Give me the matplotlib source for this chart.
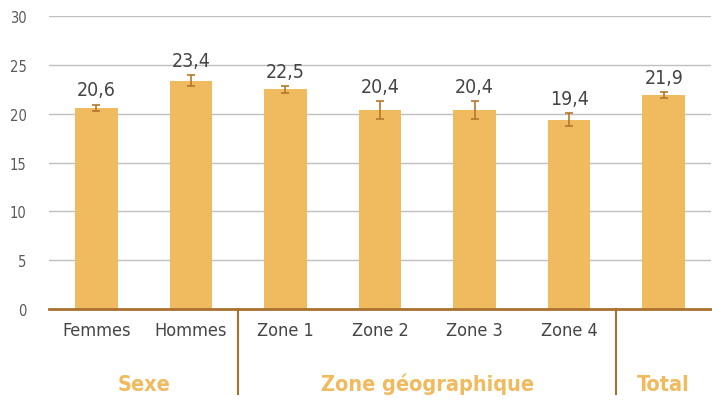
import matplotlib
matplotlib.use('Agg')
import matplotlib.pyplot as plt
import matplotlib.transforms as mtransforms
from matplotlib import font_manager

# Data
categories = ['Femmes', 'Hommes', 'Zone 1', 'Zone 2', 'Zone 3', 'Zone 4', '']
values = [20.6, 23.4, 22.5, 20.4, 20.4, 19.4, 21.9]
errors = [0.35, 0.55, 0.35, 0.9, 0.9, 0.65, 0.3]
groups = ['Sexe', 'Zone géographique', 'Total']
group_bounds = [(-0.5, 1.5), (1.5, 5.5), (5.5, 6.5)]
yticks = [0, 5, 10, 15, 20, 25, 30]

BAR = '#F0BA5E'
BROWN = '#A8712F'
TXT = '#595959'

# pick a condensed face if the system has one
names = {f.name for f in font_manager.fontManager.ttflist}
narrow = [n for n in ['Liberation Sans Narrow', 'DejaVu Sans Condensed'] if n in names]
plt.rcParams['font.family'] = narrow + ['DejaVu Sans']
plt.rcParams['font.stretch'] = 'condensed'

fig = plt.figure(figsize=(7.12, 4.02), dpi=100)
ax = fig.add_axes([49 / 712, 92 / 402, 662 / 712, 292.7 / 402])

x = range(len(values))
ax.bar(x, values, width=0.45, color=BAR, zorder=2)
ax.errorbar(x, values, yerr=errors, fmt='none', ecolor='#B5772E',
            elinewidth=1.2, capsize=3, capthick=1.2, zorder=3)

# Value labels
for xi, v, e in zip(x, values, errors):
    ax.annotate(f'{v:.1f}'.replace('.', ','), (xi, v + e),
                xytext=(0, 4), textcoords='offset points',
                ha='center', va='bottom', fontsize=14, color='#454545')

ax.set_xlim(-0.5, 6.5)
ax.set_ylim(0, 30)
ax.set_yticks(yticks)
ax.set_yticklabels([str(t) for t in yticks], fontsize=10.5, color=TXT)
ax.yaxis.grid(True, color='#BFBFBF', linewidth=1, zorder=0)
ax.set_axisbelow(True)
ax.tick_params(axis='y', length=0, pad=16)
ax.tick_params(axis='x', length=0, pad=9)
ax.set_xticks(list(x))
ax.set_xticklabels(categories, fontsize=13, color='#454545')

for side in ['left', 'right', 'top']:
    ax.spines[side].set_visible(False)
ax.spines['bottom'].set_color(BROWN)
ax.spines['bottom'].set_linewidth(2)

# Group separators and group labels below the axis
trans = mtransforms.blended_transform_factory(ax.transData, ax.transAxes)
for lo, hi in group_bounds[1:]:
    ax.plot([lo, lo], [0, -0.29], color=BROWN, linewidth=1.5,
            transform=trans, clip_on=False)
for name, (lo, hi) in zip(groups, group_bounds):
    ax.text((lo + hi) / 2, -0.255, name, transform=trans, ha='center',
            va='center', fontsize=15.5, fontweight='bold', color=BAR)

fig.savefig('out.png', dpi=100)
